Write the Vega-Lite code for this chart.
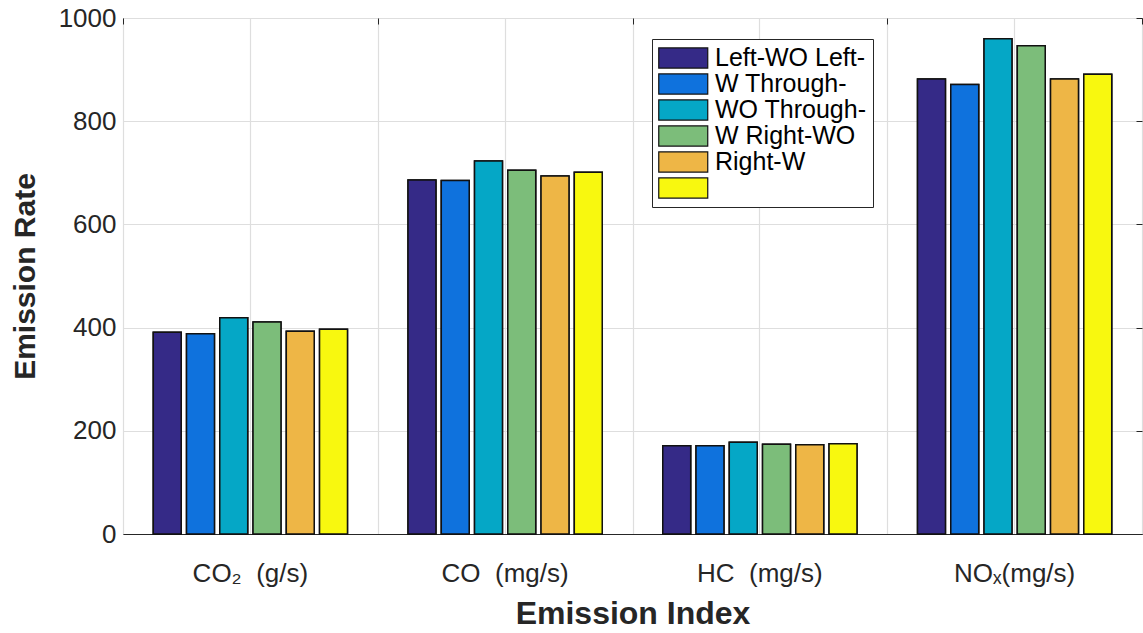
{
  "$schema": "https://vega.github.io/schema/vega-lite/v6.json",
  "autosize": "none",
  "padding": {"left": 123, "top": 18, "right": 1, "bottom": 99},
  "width": 1019,
  "height": 516,
  "background": "white",
  "config": {
    "view": {"stroke": "#262626", "strokeWidth": 1},
    "font": "Liberation Sans",
    "axis": {"labelFont": "Liberation Sans", "titleFont": "Liberation Sans", "labelColor": "#262626", "titleColor": "#262626", "gridColor": "#dedede", "gridWidth": 1.2, "domainColor": "#262626", "tickColor": "#262626"}
  },
  "data": {"values": [
    {"index": "CO₂\u00a0\u00a0(g/s)", "series": "Left-WO Left-", "rate": 391},
    {"index": "CO₂\u00a0\u00a0(g/s)", "series": "W Through-", "rate": 388},
    {"index": "CO₂\u00a0\u00a0(g/s)", "series": "WO Through-", "rate": 419},
    {"index": "CO₂\u00a0\u00a0(g/s)", "series": "W Right-WO", "rate": 411},
    {"index": "CO₂\u00a0\u00a0(g/s)", "series": "Right-W", "rate": 393},
    {"index": "CO₂\u00a0\u00a0(g/s)", "series": " ", "rate": 397},
    {"index": "CO\u00a0\u00a0(mg/s)", "series": "Left-WO Left-", "rate": 686},
    {"index": "CO\u00a0\u00a0(mg/s)", "series": "W Through-", "rate": 685},
    {"index": "CO\u00a0\u00a0(mg/s)", "series": "WO Through-", "rate": 723},
    {"index": "CO\u00a0\u00a0(mg/s)", "series": "W Right-WO", "rate": 705},
    {"index": "CO\u00a0\u00a0(mg/s)", "series": "Right-W", "rate": 694},
    {"index": "CO\u00a0\u00a0(mg/s)", "series": " ", "rate": 701},
    {"index": "HC\u00a0\u00a0(mg/s)", "series": "Left-WO Left-", "rate": 171},
    {"index": "HC\u00a0\u00a0(mg/s)", "series": "W Through-", "rate": 171},
    {"index": "HC\u00a0\u00a0(mg/s)", "series": "WO Through-", "rate": 178},
    {"index": "HC\u00a0\u00a0(mg/s)", "series": "W Right-WO", "rate": 174},
    {"index": "HC\u00a0\u00a0(mg/s)", "series": "Right-W", "rate": 173},
    {"index": "HC\u00a0\u00a0(mg/s)", "series": " ", "rate": 175},
    {"index": "NOₓ(mg/s)", "series": "Left-WO Left-", "rate": 882},
    {"index": "NOₓ(mg/s)", "series": "W Through-", "rate": 871},
    {"index": "NOₓ(mg/s)", "series": "WO Through-", "rate": 960},
    {"index": "NOₓ(mg/s)", "series": "W Right-WO", "rate": 946},
    {"index": "NOₓ(mg/s)", "series": "Right-W", "rate": 882},
    {"index": "NOₓ(mg/s)", "series": " ", "rate": 891}
  ]},
  "encoding": {
    "x": {"field": "index", "type": "nominal", "sort": null,
      "scale": {"paddingInner": 0, "paddingOuter": 0}},
    "xOffset": {"field": "series", "type": "nominal",
      "scale": {"domain": ["Left-WO Left-", "W Through-", "WO Through-", "W Right-WO", "Right-W", " "], "paddingInner": 0.16, "paddingOuter": 0.91}},
    "y": {"field": "rate", "type": "quantitative", "scale": {"domain": [0, 1000], "nice": false}},
    "fill": {"field": "series", "type": "nominal",
      "scale": {"domain": ["Left-WO Left-", "W Through-", "WO Through-", "W Right-WO", "Right-W", " "],
        "range": ["#352A87", "#0F72DD", "#05A7C6", "#7CBD7A", "#EEB646", "#F8F80F"]}}
  },
  "layer": [
    {
      "mark": {"type": "bar", "stroke": "#111111", "strokeWidth": 1.5},
      "encoding": {
        "x": {"field": "index", "type": "nominal", "sort": null,
          "axis": {"orient": "bottom", "labelAngle": 0, "labelFontSize": 26, "labelPadding": 26, "ticks": false, "grid": true, "domain": true,
            "title": "Emission Index", "titleFontSize": 32, "titleFontWeight": "bold", "titlePadding": 12}},
        "y": {"field": "rate", "type": "quantitative",
          "axis": {"orient": "left", "values": [0, 200, 400, 600, 800, 1000], "format": "d", "labelFontSize": 26, "labelPadding": 7, "ticks": false, "grid": true, "domain": false,
            "title": "Emission Rate", "titleFontSize": 30, "titleFontWeight": "bold", "titlePadding": 18}},
        "fill": {"field": "series", "type": "nominal",
          "legend": {"orient": "none", "legendX": 529, "legendY": 21, "title": null,
            "labelFontSize": 25, "labelFont": "Liberation Sans", "labelColor": "#000000",
            "symbolType": "M-1,-0.82H3V0.82H-1Z", "symbolSize": 600, "symbolStrokeColor": "#111111", "symbolStrokeWidth": 1.2,
            "strokeColor": "#262626", "fillColor": "white", "padding": 6, "rowPadding": 0, "labelOffset": 31}}
      }
    },
    {
      "mark": {"type": "bar", "stroke": "#111111", "strokeWidth": 1.5},
      "encoding": {
        "x": {"field": "index", "type": "nominal", "sort": null,
          "axis": {"orient": "top", "tickBand": "extent", "labels": false, "domain": false, "grid": true, "ticks": true, "tickSize": -6, "title": null}},
        "y": {"field": "rate", "type": "quantitative",
          "axis": {"orient": "right", "values": [0, 200, 400, 600, 800, 1000], "labels": false, "domain": false, "grid": false, "ticks": true, "tickSize": -6, "title": null}}
      }
    }
  ],
  "resolve": {"axis": {"x": "independent", "y": "independent"}}
}
